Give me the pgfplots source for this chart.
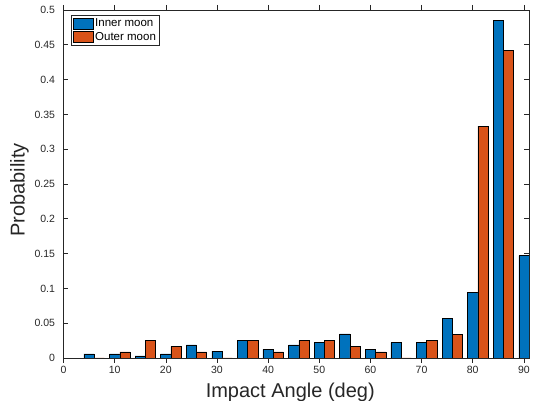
\documentclass[border=0pt]{standalone}
\usepackage{pgfplots}
\pgfplotsset{compat=1.18}
\usepackage{fontspec}
\setmainfont{Liberation Sans}

\definecolor{mblue}{RGB}{0,114,189}
\definecolor{morange}{RGB}{217,83,25}
\definecolor{maxis}{RGB}{38,38,38}

\pgfplotstableread{
x    inner    outer
5    0.0060   0.0000
10   0.0060   0.0087
15   0.0030   0.0250
20   0.0060   0.0167
25   0.0187   0.0087
30   0.0100   0.0000
35   0.0250   0.0250
40   0.0124   0.0087
45   0.0187   0.0250
50   0.0220   0.0250
55   0.0345   0.0163
60   0.0124   0.0087
65   0.0220   0.0000
70   0.0220   0.0250
75   0.0565   0.0335
80   0.0940   0.3333
85   0.4847   0.4416
90   0.1470   0.0000
}\impact

\begin{document}
\begin{tikzpicture}
\begin{axis}[
    at={(0pt,0pt)}, anchor=south west,
    scale only axis,
    width=465.5pt, height=348pt,
    xmin=0, xmax=91, ymin=0, ymax=0.5,
    xtick={0,10,...,90},
    ytick={0,0.05,...,0.5},
    scaled y ticks=false,
    yticklabel style={/pgf/number format/fixed, /pgf/number format/precision=2, xshift=-5pt},
    /pgf/number format/assume math mode=true,
    tick align=inside,
    major tick length=5pt,
    axis line style={maxis, line width=0.6pt},
    every tick/.style={maxis, line width=0.6pt},
    tick label style={font=\fontsize{10.5}{12}\selectfont, text=maxis},
    xlabel={Impact Angle (deg)},
    ylabel={Probability},
    label style={font=\fontsize{20}{23}\selectfont, text=maxis},
    xlabel style={yshift=-2pt, xshift=-6pt},
    ylabel style={yshift=-1pt, xshift=-6pt},
    ybar, bar width=2,
    legend style={at={(0.016,0.985)}, anchor=north west,
        font=\fontsize{11.5}{13}\selectfont, draw=maxis, line width=0.5pt,
        inner sep=1.5pt, row sep=0pt, cells={anchor=west}},
    legend image code/.code={
        \draw[#1, draw=black] (0pt,-5.5pt) rectangle (20pt,5.5pt);},
]
\addplot[fill=mblue, draw=black, line width=0.5pt, bar shift=0] table[x=x, y=inner] {\impact};
\addplot[fill=morange, draw=black, line width=0.5pt, bar shift=2] table[x=x, y=outer] {\impact};
\legend{Inner moon, Outer moon}
\end{axis}
\pgfresetboundingbox
\path[use as bounding box] (-63.5pt,-43pt) rectangle (472.5pt,358pt);
\end{tikzpicture}
\end{document}
